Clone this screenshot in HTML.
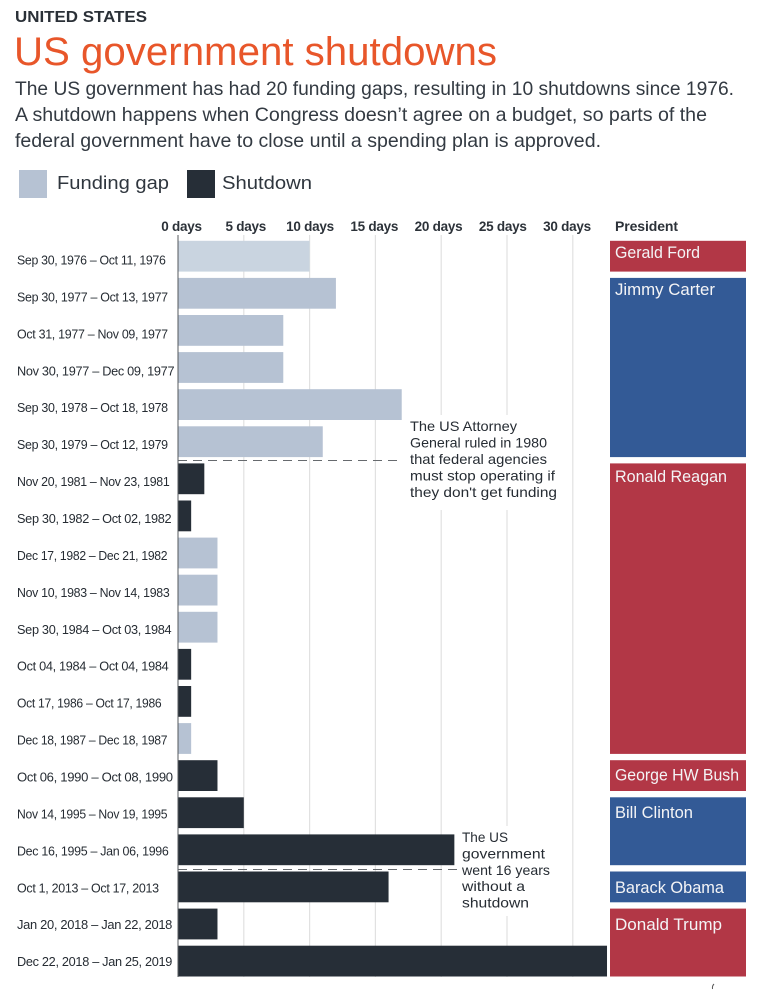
<!DOCTYPE html>
<html lang="en">
<head>
<meta charset="utf-8">
<title>US government shutdowns</title>
<style>
html,body{margin:0;padding:0;background:#fff;}
svg{display:block;font-family:"Liberation Sans",sans-serif;}
</style>
</head>
<body>
<svg id="chart" xmlns="http://www.w3.org/2000/svg" width="757" height="990" viewBox="0 0 757 990">
  <text x="15" y="22" font-size="16" font-weight="700" fill="#2a3037" textLength="132" lengthAdjust="spacingAndGlyphs">UNITED STATES</text>
  <text x="14" y="65" font-size="40" fill="#e8562a" textLength="483" lengthAdjust="spacingAndGlyphs">US government shutdowns</text>
  <text x="15" y="95" font-size="19.5" fill="#333a42" textLength="719" lengthAdjust="spacingAndGlyphs">The US government has had 20 funding gaps, resulting in 10 shutdowns since 1976.</text>
  <text x="15" y="121" font-size="19.5" fill="#333a42" textLength="692" lengthAdjust="spacingAndGlyphs">A shutdown happens when Congress doesn’t agree on a budget, so parts of the</text>
  <text x="15" y="147" font-size="19.5" fill="#333a42" textLength="586" lengthAdjust="spacingAndGlyphs">federal government have to close until a spending plan is approved.</text>

  <rect x="19" y="170" width="28" height="28" fill="#b6c2d3"/>
  <text x="57" y="189" font-size="18.5" fill="#2f363e" textLength="112" lengthAdjust="spacingAndGlyphs">Funding gap</text>
  <rect x="187" y="170" width="28" height="28" fill="#262e37"/>
  <text x="222" y="189" font-size="18.5" fill="#2f363e" textLength="90" lengthAdjust="spacingAndGlyphs">Shutdown</text>

  <g id="grid"></g>
  <g id="xticks"></g>
  <g id="bars"></g>
  <g id="rows"></g>
  <g id="presidents"></g>

  <rect x="404" y="415" width="168" height="95" fill="#fff"/>
  <line id="dash-1980" x1="178" y1="460.500" x2="398" y2="460.500" stroke="#666a6e" stroke-width="1" stroke-dasharray="9 6"/>
  <text font-size="13.6" fill="#262c33">
    <tspan x="410" y="431" textLength="107" lengthAdjust="spacingAndGlyphs">The US Attorney</tspan>
    <tspan x="410" y="447.500" textLength="137" lengthAdjust="spacingAndGlyphs">General ruled in 1980</tspan>
    <tspan x="410" y="464" textLength="137" lengthAdjust="spacingAndGlyphs">that federal agencies</tspan>
    <tspan x="410" y="480.500" textLength="145" lengthAdjust="spacingAndGlyphs">must stop operating if</tspan>
    <tspan x="410" y="497" textLength="147" lengthAdjust="spacingAndGlyphs">they don't get funding</tspan>
  </text>

  <rect x="458" y="826" width="100" height="90" fill="#fff"/>
  <line id="dash-2013" x1="178" y1="869.500" x2="458" y2="869.500" stroke="#666a6e" stroke-width="1" stroke-dasharray="9 6"/>
  <text font-size="13.6" fill="#262c33">
    <tspan x="462" y="842" textLength="46" lengthAdjust="spacingAndGlyphs">The US</tspan>
    <tspan x="462" y="858.500" textLength="83" lengthAdjust="spacingAndGlyphs">government</tspan>
    <tspan x="462" y="875" textLength="88" lengthAdjust="spacingAndGlyphs">went 16 years</tspan>
    <tspan x="462" y="891" textLength="63" lengthAdjust="spacingAndGlyphs">without a</tspan>
    <tspan x="462" y="907.500" textLength="67" lengthAdjust="spacingAndGlyphs">shutdown</tspan>
  </text>

  <path d="M714 984q-2 2-1.500 5" fill="none" stroke="#555" stroke-width="1"/>
</svg>
<script>
const periods = [
  "Sep 30, 1976 – Oct 11, 1976","Sep 30, 1977 – Oct 13, 1977","Oct 31, 1977 – Nov 09, 1977",
  "Nov 30, 1977 – Dec 09, 1977","Sep 30, 1978 – Oct 18, 1978","Sep 30, 1979 – Oct 12, 1979",
  "Nov 20, 1981 – Nov 23, 1981","Sep 30, 1982 – Oct 02, 1982","Dec 17, 1982 – Dec 21, 1982",
  "Nov 10, 1983 – Nov 14, 1983","Sep 30, 1984 – Oct 03, 1984","Oct 04, 1984 – Oct 04, 1984",
  "Oct 17, 1986 – Oct 17, 1986","Dec 18, 1987 – Dec 18, 1987","Oct 06, 1990 – Oct 08, 1990",
  "Nov 14, 1995 – Nov 19, 1995","Dec 16, 1995 – Jan 06, 1996","Oct 1, 2013 – Oct 17, 2013",
  "Jan 20, 2018 – Jan 22, 2018","Dec 22, 2018 – Jan 25, 2019"
];
const durationDays = [10,12,8,8,17,11,2,1,3,3,3,1,1,1,3,5,21,16,3,32.6];
const eventTypes = ["gap","gap","gap","gap","gap","gap","shutdown","shutdown","gap","gap","gap",
  "shutdown","shutdown","gap","shutdown","shutdown","shutdown","shutdown","shutdown","shutdown"];
const tickValues = [0,5,10,15,20,25,30];
const tickLabels = ["0 days","5 days","10 days","15 days","20 days","25 days","30 days"];
const presidentNames = ["Gerald Ford","Jimmy Carter","Ronald Reagan","George HW Bush","Bill Clinton","Barack Obama","Donald Trump"];
const presidentRowCounts = [1,5,8,1,2,1,2];
const presidentParties = ["r","d","r","r","d","d","r"];

const NS = "http://www.w3.org/2000/svg";
const X0 = 178, PX_PER_DAY = 13.16, ROW_TOP = 240.8, ROW_STEP = 37.1, BAR_H = 30.8;
const AXIS_TOP = 235, AXIS_BOTTOM = 977;
const LABEL_BASE = 264.5, LABEL_STEP = 36.93;
const NAME_BASE = 257.8, NAME_STEP = 37.35;
const NAME_WIDTH_FIT = {"Gerald Ford":85,"Jimmy Carter":100,"Ronald Reagan":112,"George HW Bush":124,"Bill Clinton":78,"Barack Obama":109,"Donald Trump":107};
const xScale = d => X0 + d * PX_PER_DAY;
const yScale = i => ROW_TOP + i * ROW_STEP;
const make = (tag, parent, attrs) => {
  const el = document.createElementNS(NS, tag);
  for (const k in attrs) el.setAttribute(k, attrs[k]);
  parent.appendChild(el);
  return el;
};
const countChar = (s, c) => s.split(c).length - 1;
const grid = document.getElementById("grid");
const xticks = document.getElementById("xticks");
const bars = document.getElementById("bars");
const rows = document.getElementById("rows");
const presidents = document.getElementById("presidents");

tickValues.forEach((v, i) => {
  if (v > 0) {
    const line = make("line", grid, {x1: xScale(v), x2: xScale(v), y1: AXIS_TOP, y2: AXIS_BOTTOM, stroke: "#e1e1e1", "stroke-width": 1.2});
    
    
  }
  const t = make("text", xticks, {x: xScale(v) + 3.5 - v * 0.5 * 0.62, y: 231, "text-anchor": "middle", "font-size": 13.5, "font-weight": 700, fill: "#2c3239", "letter-spacing": "-0.25"});
  
  
  t.textContent = tickLabels[i];
});

periods.forEach((p, i) => {
  const fill = eventTypes[i] === "shutdown" ? "#262e37" : (i === 0 ? "#c9d4e0" : "#b6c2d3");
  const r = make("rect", bars, {x: X0, y: yScale(i), width: xScale(durationDays[i]) - X0, height: BAR_H, fill: fill});
  
  
  const t = make("text", rows, {x: 17, y: LABEL_BASE + i * LABEL_STEP, "font-size": 13.2, fill: "#262c33", "letter-spacing": "-0.32"});
  
  
  t.textContent = p;
  const natural = t.getComputedTextLength();
  t.setAttribute("textLength", natural - 1.3 * countChar(p, "1") + 2.2 * countChar(p, "0") - 7.5);
  t.setAttribute("lengthAdjust", "spacingAndGlyphs");
});

const axis = make("line", rows, {x1: X0, x2: X0, y1: AXIS_TOP, y2: AXIS_BOTTOM, stroke: "#55595e", "stroke-width": 1});



const head = make("text", presidents, {x: 615, y: 231, "font-size": 14, "font-weight": 700, fill: "#2c3239", "letter-spacing": "-0.1"});


head.textContent = "President";

let startRow = 0;
presidentNames.forEach((name, i) => {
  const n = presidentRowCounts[i];
  const r = make("rect", presidents, {x: 610, y: yScale(startRow), width: 136, height: (n - 1) * ROW_STEP + BAR_H, fill: presidentParties[i] === "r" ? "#b23746" : "#335a96"});
  
  
  const t = make("text", presidents, {x: 615, y: NAME_BASE + startRow * NAME_STEP, "font-size": 16.3, fill: "#f4f4f6", textLength: NAME_WIDTH_FIT[name] || 100, lengthAdjust: "spacingAndGlyphs"});
  
  
  t.textContent = name;
  startRow += n;
});
</script>
</body>
</html>
